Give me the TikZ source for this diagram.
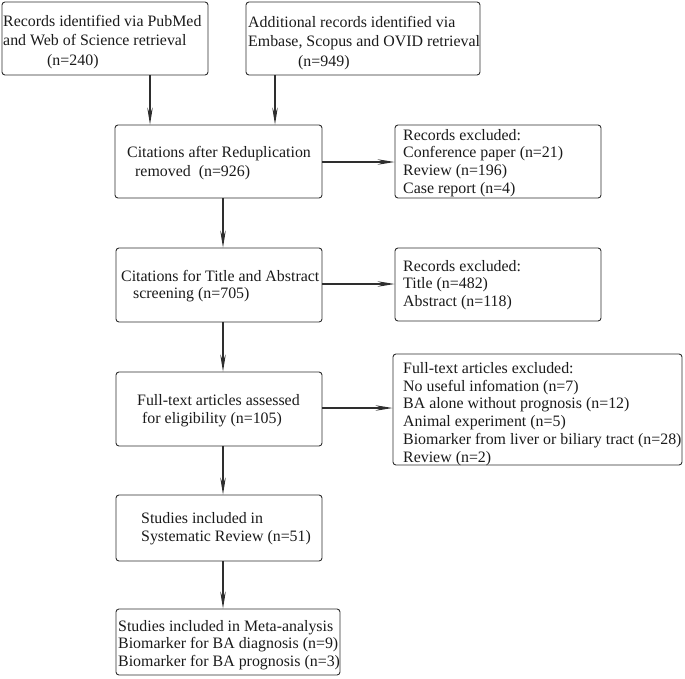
\documentclass[tikz,border=0pt]{standalone}
\usepackage{fontspec}
\setmainfont{Liberation Serif}
\usetikzlibrary{arrows.meta}
\definecolor{linec}{HTML}{2E2E2E}
\definecolor{textc}{HTML}{1A1A1A}
\tikzset{
  box/.style={draw=linec, line width=0.9pt, rounded corners=3pt, inner sep=0pt},
  txt/.style={anchor=north west, inner sep=0pt, align=left, text=textc},
  arr/.style={draw=linec, line width=1.1pt, -{Stealth[length=17pt,width=5.5pt,inset=6pt]}},
}
\newcommand{\fs}[1]{\fontsize{15.9}{#1}\selectfont}
\newcommand{\st}{\rule{0pt}{12pt}}
\begin{document}
\begin{tikzpicture}[x=1pt,y=-1pt]
\useasboundingbox (0,0) rectangle (685,678);
% boxes
\node[box, minimum width=206, minimum height=73] (b1) at (105,38.5) {};
\node[box, minimum width=234, minimum height=73] (b2) at (363,38.5) {};
\node[box, minimum width=207, minimum height=73] (b3) at (218.5,161.5) {};
\node[box, minimum width=206, minimum height=73] (b4) at (498,161.5) {};
\node[box, minimum width=206, minimum height=74] (b5) at (219,285) {};
\node[box, minimum width=206, minimum height=73] (b6) at (498,284.5) {};
\node[box, minimum width=289, minimum height=111] (b7) at (537.5,409.5) {};
\node[box, minimum width=206, minimum height=74] (b8) at (219,409) {};
\node[box, minimum width=206, minimum height=66] (b9) at (219,528) {};
\node[box, minimum width=224, minimum height=66] (b10) at (228,642) {};
% texts
\node[txt, font=\fs{19.5}] (t1) at (3,14) {\st Records identified via PubMed\\and Web of Science retrieval\\\hspace*{44pt}(n=240)};
\node[txt, font=\fs{19.5}] (t2) at (248,15) {\st Additional records identified via\\Embase, Scopus and OVID retrieval\\\hspace*{50pt}(n=949)};
\node[txt, font=\fs{19}] (t3) at (127,145) {\st Citations after Reduplication\\\hspace*{8pt}removed\ \ (n=926)};
\node[txt, font=\fs{17.7}] (t4) at (403,128) {\st Records excluded:\\Conference paper (n=21)\\Review (n=196)\\Case report (n=4)};
\node[txt, font=\fs{17}] (t5) at (121,269) {\st Citations for Title and Abstract\\\hspace*{12pt}screening (n=705)};
\node[txt, font=\fs{17.5}] (t6) at (403,259) {\st Records excluded:\\Title (n=482)\\Abstract (n=118)};
\node[txt, font=\fs{17.8}] (t7) at (403,361) {\st Full-text articles excluded:\\No useful infomation (n=7)\\BA alone without prognosis (n=12)\\Animal experiment (n=5)\\Biomarker from liver or biliary tract (n=28)\\Review (n=2)};
\node[txt, font=\fs{18}] (t8) at (137,393) {\st Full-text articles assessed\\\hspace*{5pt}for eligibility (n=105)};
\node[txt, font=\fs{18}] (t9) at (141,511) {\st Studies included in\\Systematic Review (n=51)};
\node[txt, font=\fs{17.5}] (t10) at (118,619) {\st Studies included in Meta-analysis\\Biomarker for BA diagnosis (n=9)\\Biomarker for BA prognosis (n=3)};
% arrows
\draw[arr] (b1.south -| 150,0) -- (b3.north -| 150,0);
\draw[arr] (b2.south -| 275,0) -- (b3.north -| 275,0);
\draw[arr] (b3.east |- 0,162) -- (b4.west |- 0,162);
\draw[arr] (b3.south -| 223,0) -- (b5.north -| 223,0);
\draw[arr] (b5.east |- 0,284) -- (b6.west |- 0,284);
\draw[arr] (b5.south -| 223,0) -- (b8.north -| 223,0);
\draw[arr] (b8.east |- 0,408) -- (b7.west |- 0,408);
\draw[arr] (b8.south -| 223,0) -- (b9.north -| 223,0);
\draw[arr] (b9.south -| 223,0) -- (b10.north -| 223,0);
\end{tikzpicture}
\end{document}
